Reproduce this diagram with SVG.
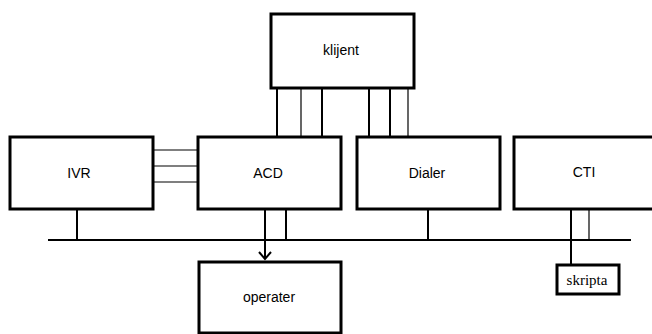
<svg xmlns="http://www.w3.org/2000/svg" width="652" height="334" viewBox="0 0 652 334">
<style>
.box{fill:#fff;stroke:#000;stroke-width:3}
.lbl{font-family:"Liberation Sans",Arial,sans-serif;font-size:14px;fill:#000;text-anchor:middle}
.ser{font-family:"Liberation Serif","Times New Roman",serif;font-size:15px;fill:#000;text-anchor:middle}
.w2{stroke:#000;stroke-width:2;fill:none}
.w1{stroke:#000;stroke-width:1.2;fill:none}
</style>
<rect width="652" height="334" fill="#fff"/>
<g id="connectors">
<line class="w2" x1="277" y1="88" x2="277" y2="137"/>
<line class="w1" x1="301" y1="88" x2="301" y2="137"/>
<line class="w2" x1="322" y1="88" x2="322" y2="137"/>
<line class="w2" x1="369" y1="88" x2="369" y2="137"/>
<line class="w2" x1="390" y1="88" x2="390" y2="137"/>
<line class="w1" x1="408" y1="88" x2="408" y2="137"/>
<line class="w1" x1="153" y1="150" x2="198" y2="150"/>
<line class="w1" x1="153" y1="166" x2="198" y2="166"/>
<line class="w1" x1="153" y1="182" x2="198" y2="182"/>
<line class="w2" x1="48" y1="240" x2="631" y2="240"/>
<line class="w2" x1="77" y1="209" x2="77" y2="240"/>
<line class="w2" x1="265" y1="209" x2="265" y2="258"/>
<polyline class="w2" stroke-width="2.5" points="259,252 265,259 271,252"/>
<line class="w2" x1="286" y1="209" x2="286" y2="240"/>
<line class="w2" x1="428" y1="209" x2="428" y2="240"/>
<line class="w2" x1="571" y1="209" x2="571" y2="265"/>
<line class="w1" x1="589" y1="209" x2="589" y2="240"/>
</g>
<g id="klijent"><rect class="box" x="271" y="14" width="143" height="74"/><text class="lbl" x="341" y="55">klijent</text></g>
<g id="IVR"><rect class="box" x="10" y="137" width="143" height="72"/><text class="lbl" x="79" y="178">IVR</text></g>
<g id="ACD"><rect class="box" x="198" y="137" width="143" height="72"/><text class="lbl" x="268" y="178">ACD</text></g>
<g id="Dialer"><rect class="box" x="357" y="137" width="143" height="72"/><text class="lbl" x="427" y="178">Dialer</text></g>
<g id="CTI"><rect class="box" x="514" y="137" width="143" height="72"/><text class="lbl" x="584" y="177">CTI</text></g>
<g id="operater"><rect class="box" x="199" y="262" width="142" height="71"/><text class="lbl" x="269" y="302">operater</text></g>
<g id="skripta"><rect class="box" x="557" y="265" width="62" height="29"/><text class="ser" x="587" y="285">skripta</text></g>
</svg>
